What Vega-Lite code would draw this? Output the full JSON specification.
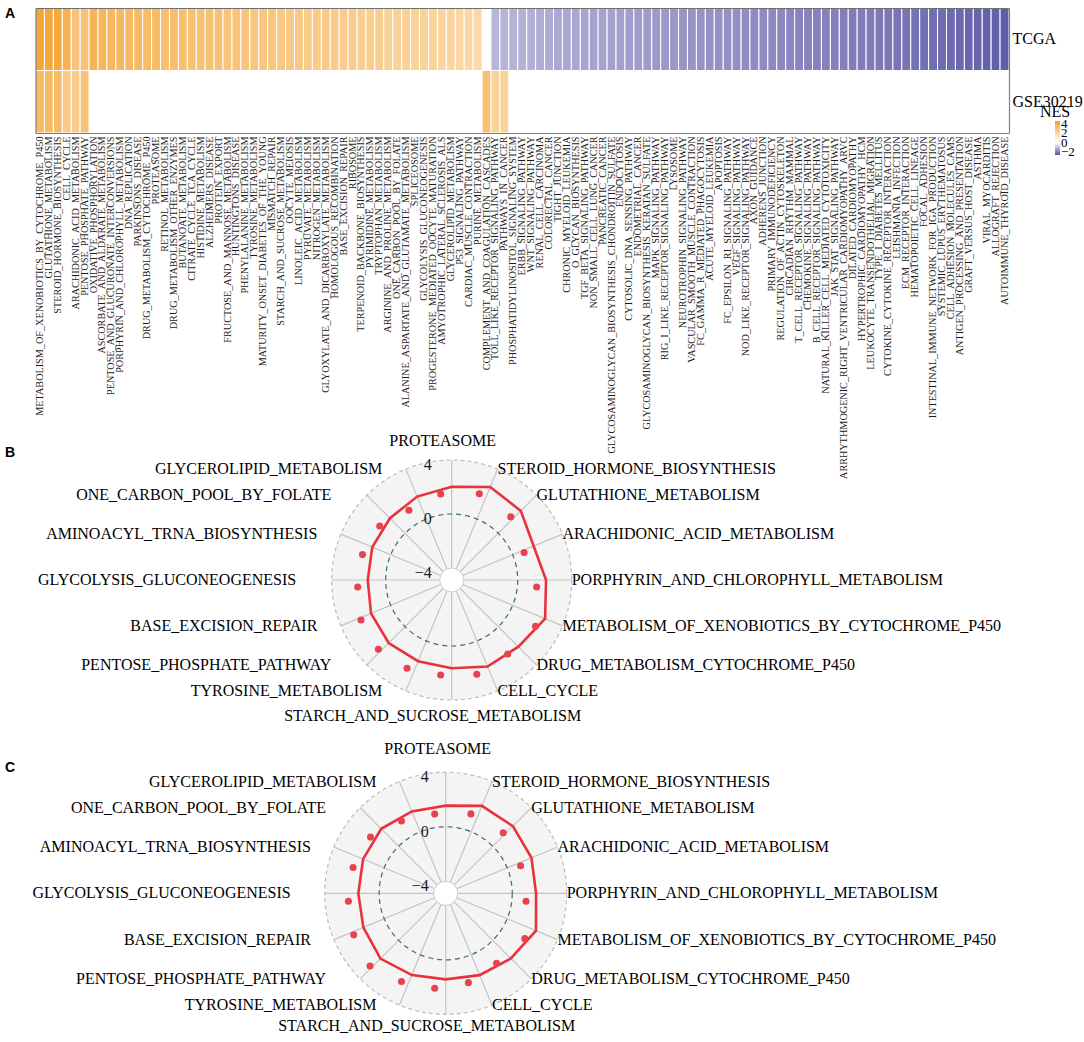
{
"$schema": "https://vega.github.io/schema/vega-lite/v6.json",
"width": 1084, "height": 1042,
"autosize": {"type": "fit", "contains": "padding"},
"padding": 0,
"background": "white",
"config": {"view": {"stroke": null}, "font": "Liberation Serif"},
"datasets": {
"cells": [
{"p":"METABOLISM_OF_XENOBIOTICS_BY_CYTOCHROME_P450","d":"TCGA","nes":4.4},
{"p":"METABOLISM_OF_XENOBIOTICS_BY_CYTOCHROME_P450","d":"GSE30219","nes":3.4},
{"p":"GLUTATHIONE_METABOLISM","d":"TCGA","nes":4.3},
{"p":"GLUTATHIONE_METABOLISM","d":"GSE30219","nes":3.4},
{"p":"STEROID_HORMONE_BIOSYNTHESIS","d":"TCGA","nes":4.3},
{"p":"STEROID_HORMONE_BIOSYNTHESIS","d":"GSE30219","nes":3.3},
{"p":"CELL_CYCLE","d":"TCGA","nes":3.8},
{"p":"CELL_CYCLE","d":"GSE30219","nes":2.6},
{"p":"ARACHIDONIC_ACID_METABOLISM","d":"TCGA","nes":2.9},
{"p":"ARACHIDONIC_ACID_METABOLISM","d":"GSE30219","nes":2.5},
{"p":"PENTOSE_PHOSPHATE_PATHWAY","d":"TCGA","nes":3.0},
{"p":"PENTOSE_PHOSPHATE_PATHWAY","d":"GSE30219","nes":3.0},
{"p":"OXIDATIVE_PHOSPHORYLATION","d":"TCGA","nes":3.7},
{"p":"ASCORBATE_AND_ALDARATE_METABOLISM","d":"TCGA","nes":3.6},
{"p":"PENTOSE_AND_GLUCURONATE_INTERCONVERSIONS","d":"TCGA","nes":3.5},
{"p":"PORPHYRIN_AND_CHLOROPHYLL_METABOLISM","d":"TCGA","nes":3.5},
{"p":"DNA_REPLICATION","d":"TCGA","nes":3.4},
{"p":"PARKINSONS_DISEASE","d":"TCGA","nes":3.4},
{"p":"DRUG_METABOLISM_CYTOCHROME_P450","d":"TCGA","nes":3.3},
{"p":"PROTEASOME","d":"TCGA","nes":3.3},
{"p":"RETINOL_METABOLISM","d":"TCGA","nes":3.2},
{"p":"DRUG_METABOLISM_OTHER_ENZYMES","d":"TCGA","nes":3.2},
{"p":"BUTANOATE_METABOLISM","d":"TCGA","nes":3.1},
{"p":"CITRATE_CYCLE_TCA_CYCLE","d":"TCGA","nes":3.1},
{"p":"HISTIDINE_METABOLISM","d":"TCGA","nes":3.0},
{"p":"ALZHEIMERS_DISEASE","d":"TCGA","nes":3.0},
{"p":"PROTEIN_EXPORT","d":"TCGA","nes":3.0},
{"p":"FRUCTOSE_AND_MANNOSE_METABOLISM","d":"TCGA","nes":2.9},
{"p":"HUNTINGTONS_DISEASE","d":"TCGA","nes":2.9},
{"p":"PHENYLALANINE_METABOLISM","d":"TCGA","nes":2.9},
{"p":"TYROSINE_METABOLISM","d":"TCGA","nes":2.8},
{"p":"MATURITY_ONSET_DIABETES_OF_THE_YOUNG","d":"TCGA","nes":2.8},
{"p":"MISMATCH_REPAIR","d":"TCGA","nes":2.8},
{"p":"STARCH_AND_SUCROSE_METABOLISM","d":"TCGA","nes":2.7},
{"p":"OOCYTE_MEIOSIS","d":"TCGA","nes":2.7},
{"p":"LINOLEIC_ACID_METABOLISM","d":"TCGA","nes":2.7},
{"p":"PYRUVATE_METABOLISM","d":"TCGA","nes":2.6},
{"p":"NITROGEN_METABOLISM","d":"TCGA","nes":2.6},
{"p":"GLYOXYLATE_AND_DICARBOXYLATE_METABOLISM","d":"TCGA","nes":2.6},
{"p":"HOMOLOGOUS_RECOMBINATION","d":"TCGA","nes":2.5},
{"p":"BASE_EXCISION_REPAIR","d":"TCGA","nes":2.5},
{"p":"RIBOSOME","d":"TCGA","nes":2.5},
{"p":"TERPENOID_BACKBONE_BIOSYNTHESIS","d":"TCGA","nes":2.4},
{"p":"PYRIMIDINE_METABOLISM","d":"TCGA","nes":2.4},
{"p":"TRYPTOPHAN_METABOLISM","d":"TCGA","nes":2.4},
{"p":"ARGININE_AND_PROLINE_METABOLISM","d":"TCGA","nes":2.3},
{"p":"ONE_CARBON_POOL_BY_FOLATE","d":"TCGA","nes":2.3},
{"p":"ALANINE_ASPARTATE_AND_GLUTAMATE_METABOLISM","d":"TCGA","nes":2.3},
{"p":"SPLICEOSOME","d":"TCGA","nes":2.2},
{"p":"GLYCOLYSIS_GLUCONEOGENESIS","d":"TCGA","nes":2.2},
{"p":"PROGESTERONE_MEDIATED_OOCYTE_MATURATION","d":"TCGA","nes":2.2},
{"p":"AMYOTROPHIC_LATERAL_SCLEROSIS_ALS","d":"TCGA","nes":2.1},
{"p":"GLYCEROLIPID_METABOLISM","d":"TCGA","nes":2.1},
{"p":"P53_SIGNALING_PATHWAY","d":"TCGA","nes":2.0},
{"p":"CARDIAC_MUSCLE_CONTRACTION","d":"TCGA","nes":2.0},
{"p":"PURINE_METABOLISM","d":"TCGA","nes":1.9},
{"p":"COMPLEMENT_AND_COAGULATION_CASCADES","d":"GSE30219","nes":3.1},
{"p":"TOLL_LIKE_RECEPTOR_SIGNALING_PATHWAY","d":"TCGA","nes":-1.10},
{"p":"TOLL_LIKE_RECEPTOR_SIGNALING_PATHWAY","d":"GSE30219","nes":2.3},
{"p":"PATHWAYS_IN_CANCER","d":"TCGA","nes":-1.13},
{"p":"PATHWAYS_IN_CANCER","d":"GSE30219","nes":2.2},
{"p":"PHOSPHATIDYLINOSITOL_SIGNALING_SYSTEM","d":"TCGA","nes":-1.15},
{"p":"ERBB_SIGNALING_PATHWAY","d":"TCGA","nes":-1.18},
{"p":"WNT_SIGNALING_PATHWAY","d":"TCGA","nes":-1.20},
{"p":"RENAL_CELL_CARCINOMA","d":"TCGA","nes":-1.23},
{"p":"COLORECTAL_CANCER","d":"TCGA","nes":-1.25},
{"p":"TIGHT_JUNCTION","d":"TCGA","nes":-1.28},
{"p":"CHRONIC_MYELOID_LEUKEMIA","d":"TCGA","nes":-1.30},
{"p":"O_GLYCAN_BIOSYNTHESIS","d":"TCGA","nes":-1.32},
{"p":"TGF_BETA_SIGNALING_PATHWAY","d":"TCGA","nes":-1.35},
{"p":"NON_SMALL_CELL_LUNG_CANCER","d":"TCGA","nes":-1.37},
{"p":"PANCREATIC_CANCER","d":"TCGA","nes":-1.40},
{"p":"GLYCOSAMINOGLYCAN_BIOSYNTHESIS_CHONDROITIN_SULFATE","d":"TCGA","nes":-1.42},
{"p":"ENDOCYTOSIS","d":"TCGA","nes":-1.44},
{"p":"CYTOSOLIC_DNA_SENSING_PATHWAY","d":"TCGA","nes":-1.46},
{"p":"ENDOMETRIAL_CANCER","d":"TCGA","nes":-1.48},
{"p":"GLYCOSAMINOGLYCAN_BIOSYNTHESIS_KERATAN_SULFATE","d":"TCGA","nes":-1.50},
{"p":"MAPK_SIGNALING_PATHWAY","d":"TCGA","nes":-1.52},
{"p":"RIG_I_LIKE_RECEPTOR_SIGNALING_PATHWAY","d":"TCGA","nes":-1.54},
{"p":"LYSOSOME","d":"TCGA","nes":-1.56},
{"p":"NEUROTROPHIN_SIGNALING_PATHWAY","d":"TCGA","nes":-1.58},
{"p":"VASCULAR_SMOOTH_MUSCLE_CONTRACTION","d":"TCGA","nes":-1.60},
{"p":"FC_GAMMA_R_MEDIATED_PHAGOCYTOSIS","d":"TCGA","nes":-1.62},
{"p":"ACUTE_MYELOID_LEUKEMIA","d":"TCGA","nes":-1.64},
{"p":"APOPTOSIS","d":"TCGA","nes":-1.66},
{"p":"FC_EPSILON_RI_SIGNALING_PATHWAY","d":"TCGA","nes":-1.68},
{"p":"VEGF_SIGNALING_PATHWAY","d":"TCGA","nes":-1.70},
{"p":"NOD_LIKE_RECEPTOR_SIGNALING_PATHWAY","d":"TCGA","nes":-1.72},
{"p":"AXON_GUIDANCE","d":"TCGA","nes":-1.74},
{"p":"ADHERENS_JUNCTION","d":"TCGA","nes":-1.76},
{"p":"PRIMARY_IMMUNODEFICIENCY","d":"TCGA","nes":-1.78},
{"p":"REGULATION_OF_ACTIN_CYTOSKELETON","d":"TCGA","nes":-1.80},
{"p":"CIRCADIAN_RHYTHM_MAMMAL","d":"TCGA","nes":-1.82},
{"p":"T_CELL_RECEPTOR_SIGNALING_PATHWAY","d":"TCGA","nes":-1.84},
{"p":"CHEMOKINE_SIGNALING_PATHWAY","d":"TCGA","nes":-1.86},
{"p":"B_CELL_RECEPTOR_SIGNALING_PATHWAY","d":"TCGA","nes":-1.88},
{"p":"NATURAL_KILLER_CELL_MEDIATED_CYTOTOXICITY","d":"TCGA","nes":-1.90},
{"p":"JAK_STAT_SIGNALING_PATHWAY","d":"TCGA","nes":-1.92},
{"p":"ARRHYTHMOGENIC_RIGHT_VENTRICULAR_CARDIOMYOPATHY_ARVC","d":"TCGA","nes":-1.94},
{"p":"DILATED_CARDIOMYOPATHY","d":"TCGA","nes":-1.96},
{"p":"HYPERTROPHIC_CARDIOMYOPATHY_HCM","d":"TCGA","nes":-1.98},
{"p":"LEUKOCYTE_TRANSENDOTHELIAL_MIGRATION","d":"TCGA","nes":-2.00},
{"p":"TYPE_I_DIABETES_MELLITUS","d":"TCGA","nes":-2.02},
{"p":"CYTOKINE_CYTOKINE_RECEPTOR_INTERACTION","d":"TCGA","nes":-2.05},
{"p":"LEISHMANIA_INFECTION","d":"TCGA","nes":-2.08},
{"p":"ECM_RECEPTOR_INTERACTION","d":"TCGA","nes":-2.10},
{"p":"HEMATOPOIETIC_CELL_LINEAGE","d":"TCGA","nes":-2.13},
{"p":"FOCAL_ADHESION","d":"TCGA","nes":-2.16},
{"p":"INTESTINAL_IMMUNE_NETWORK_FOR_IGA_PRODUCTION","d":"TCGA","nes":-2.19},
{"p":"SYSTEMIC_LUPUS_ERYTHEMATOSUS","d":"TCGA","nes":-2.22},
{"p":"CELL_ADHESION_MOLECULES_CAMS","d":"TCGA","nes":-2.25},
{"p":"ANTIGEN_PROCESSING_AND_PRESENTATION","d":"TCGA","nes":-2.28},
{"p":"GRAFT_VERSUS_HOST_DISEASE","d":"TCGA","nes":-2.31},
{"p":"ASTHMA","d":"TCGA","nes":-2.34},
{"p":"VIRAL_MYOCARDITIS","d":"TCGA","nes":-2.37},
{"p":"ALLOGRAFT_REJECTION","d":"TCGA","nes":-2.40},
{"p":"AUTOIMMUNE_THYROID_DISEASE","d":"TCGA","nes":-2.45}
],
"axes": [
{"p":"PROTEASOME","i":0},{"p":"STEROID_HORMONE_BIOSYNTHESIS","i":1},{"p":"GLUTATHIONE_METABOLISM","i":2},{"p":"ARACHIDONIC_ACID_METABOLISM","i":3},{"p":"PORPHYRIN_AND_CHLOROPHYLL_METABOLISM","i":4},{"p":"METABOLISM_OF_XENOBIOTICS_BY_CYTOCHROME_P450","i":5},{"p":"DRUG_METABOLISM_CYTOCHROME_P450","i":6},{"p":"CELL_CYCLE","i":7},{"p":"STARCH_AND_SUCROSE_METABOLISM","i":8},{"p":"TYROSINE_METABOLISM","i":9},{"p":"PENTOSE_PHOSPHATE_PATHWAY","i":10},{"p":"BASE_EXCISION_REPAIR","i":11},{"p":"GLYCOLYSIS_GLUCONEOGENESIS","i":12},{"p":"AMINOACYL_TRNA_BIOSYNTHESIS","i":13},{"p":"ONE_CARBON_POOL_BY_FOLATE","i":14},{"p":"GLYCEROLIPID_METABOLISM","i":15}
],
"grid": [{"v":4},{"v":0},{"v":-4}],
"radar": [
{"panel":"B","s":"line","p":"PROTEASOME","nes":2.02},
{"panel":"B","s":"line","p":"STEROID_HORMONE_BIOSYNTHESIS","nes":2.57},
{"panel":"B","s":"line","p":"GLUTATHIONE_METABOLISM","nes":2.35},
{"panel":"B","s":"line","p":"ARACHIDONIC_ACID_METABOLISM","nes":1.68},
{"panel":"B","s":"line","p":"PORPHYRIN_AND_CHLOROPHYLL_METABOLISM","nes":2.10},
{"panel":"B","s":"line","p":"METABOLISM_OF_XENOBIOTICS_BY_CYTOCHROME_P450","nes":2.60},
{"panel":"B","s":"line","p":"DRUG_METABOLISM_CYTOCHROME_P450","nes":2.10},
{"panel":"B","s":"line","p":"CELL_CYCLE","nes":2.05},
{"panel":"B","s":"line","p":"STARCH_AND_SUCROSE_METABOLISM","nes":1.65},
{"panel":"B","s":"line","p":"TYROSINE_METABOLISM","nes":1.62},
{"panel":"B","s":"line","p":"PENTOSE_PHOSPHATE_PATHWAY","nes":1.71},
{"panel":"B","s":"line","p":"BASE_EXCISION_REPAIR","nes":1.58},
{"panel":"B","s":"line","p":"GLYCOLYSIS_GLUCONEOGENESIS","nes":1.33},
{"panel":"B","s":"line","p":"AMINOACYL_TRNA_BIOSYNTHESIS","nes":1.48},
{"panel":"B","s":"line","p":"ONE_CARBON_POOL_BY_FOLATE","nes":1.58},
{"panel":"B","s":"line","p":"GLYCEROLIPID_METABOLISM","nes":1.80},
{"panel":"B","s":"dot","p":"PROTEASOME","nes":2.00},
{"panel":"B","s":"dot","p":"STEROID_HORMONE_BIOSYNTHESIS","nes":2.59},
{"panel":"B","s":"dot","p":"GLUTATHIONE_METABOLISM","nes":2.46},
{"panel":"B","s":"dot","p":"ARACHIDONIC_ACID_METABOLISM","nes":1.80},
{"panel":"B","s":"dot","p":"PORPHYRIN_AND_CHLOROPHYLL_METABOLISM","nes":2.22},
{"panel":"B","s":"dot","p":"METABOLISM_OF_XENOBIOTICS_BY_CYTOCHROME_P450","nes":2.71},
{"panel":"B","s":"dot","p":"DRUG_METABOLISM_CYTOCHROME_P450","nes":2.13},
{"panel":"B","s":"dot","p":"CELL_CYCLE","nes":2.10},
{"panel":"B","s":"dot","p":"STARCH_AND_SUCROSE_METABOLISM","nes":1.63},
{"panel":"B","s":"dot","p":"TYROSINE_METABOLISM","nes":1.62},
{"panel":"B","s":"dot","p":"PENTOSE_PHOSPHATE_PATHWAY","nes":1.64},
{"panel":"B","s":"dot","p":"BASE_EXCISION_REPAIR","nes":1.50},
{"panel":"B","s":"dot","p":"GLYCOLYSIS_GLUCONEOGENESIS","nes":1.26},
{"panel":"B","s":"dot","p":"AMINOACYL_TRNA_BIOSYNTHESIS","nes":1.38},
{"panel":"B","s":"dot","p":"ONE_CARBON_POOL_BY_FOLATE","nes":1.50},
{"panel":"B","s":"dot","p":"GLYCEROLIPID_METABOLISM","nes":1.27},
{"panel":"C","s":"line","p":"PROTEASOME","nes":1.55},
{"panel":"C","s":"line","p":"STEROID_HORMONE_BIOSYNTHESIS","nes":2.06},
{"panel":"C","s":"line","p":"GLUTATHIONE_METABOLISM","nes":2.09},
{"panel":"C","s":"line","p":"ARACHIDONIC_ACID_METABOLISM","nes":1.93},
{"panel":"C","s":"line","p":"PORPHYRIN_AND_CHLOROPHYLL_METABOLISM","nes":1.75},
{"panel":"C","s":"line","p":"METABOLISM_OF_XENOBIOTICS_BY_CYTOCHROME_P450","nes":2.29},
{"panel":"C","s":"line","p":"DRUG_METABOLISM_CYTOCHROME_P450","nes":1.88},
{"panel":"C","s":"line","p":"CELL_CYCLE","nes":1.62},
{"panel":"C","s":"line","p":"STARCH_AND_SUCROSE_METABOLISM","nes":1.43},
{"panel":"C","s":"line","p":"TYROSINE_METABOLISM","nes":1.61},
{"panel":"C","s":"line","p":"PENTOSE_PHOSPHATE_PATHWAY","nes":1.89},
{"panel":"C","s":"line","p":"BASE_EXCISION_REPAIR","nes":1.66},
{"panel":"C","s":"line","p":"GLYCOLYSIS_GLUCONEOGENESIS","nes":1.53},
{"panel":"C","s":"line","p":"AMINOACYL_TRNA_BIOSYNTHESIS","nes":1.68},
{"panel":"C","s":"line","p":"ONE_CARBON_POOL_BY_FOLATE","nes":1.81},
{"panel":"C","s":"line","p":"GLYCEROLIPID_METABOLISM","nes":1.62},
{"panel":"C","s":"dot","p":"PROTEASOME","nes":1.53},
{"panel":"C","s":"dot","p":"STEROID_HORMONE_BIOSYNTHESIS","nes":2.06},
{"panel":"C","s":"dot","p":"GLUTATHIONE_METABOLISM","nes":2.23},
{"panel":"C","s":"dot","p":"ARACHIDONIC_ACID_METABOLISM","nes":1.94},
{"panel":"C","s":"dot","p":"PORPHYRIN_AND_CHLOROPHYLL_METABOLISM","nes":1.82},
{"panel":"C","s":"dot","p":"METABOLISM_OF_XENOBIOTICS_BY_CYTOCHROME_P450","nes":2.28},
{"panel":"C","s":"dot","p":"DRUG_METABOLISM_CYTOCHROME_P450","nes":1.54},
{"panel":"C","s":"dot","p":"CELL_CYCLE","nes":1.58},
{"panel":"C","s":"dot","p":"STARCH_AND_SUCROSE_METABOLISM","nes":1.50},
{"panel":"C","s":"dot","p":"TYROSINE_METABOLISM","nes":1.49},
{"panel":"C","s":"dot","p":"PENTOSE_PHOSPHATE_PATHWAY","nes":1.83},
{"panel":"C","s":"dot","p":"BASE_EXCISION_REPAIR","nes":1.55},
{"panel":"C","s":"dot","p":"GLYCOLYSIS_GLUCONEOGENESIS","nes":1.45},
{"panel":"C","s":"dot","p":"AMINOACYL_TRNA_BIOSYNTHESIS","nes":1.60},
{"panel":"C","s":"dot","p":"ONE_CARBON_POOL_BY_FOLATE","nes":1.78},
{"panel":"C","s":"dot","p":"GLYCEROLIPID_METABOLISM","nes":1.49}
]
},
"layer": [
{
"data": {"name": "cells"},
"layer": [
{
"mark": {"type": "rect", "stroke": "white", "strokeWidth": 1},
"encoding": {
"x": {"field": "p", "type": "nominal", "sort": null, "scale": {"range": [35.5, 1009], "paddingInner": 0, "paddingOuter": 0},
 "axis": {"orient": "bottom", "offset": -909, "title": null, "ticks": false, "domain": true, "domainColor": "#808080", "domainWidth": 1.2, "labelAngle": -90, "labelFont": "Liberation Serif", "labelFontSize": 10.2, "labelColor": "#1a1a1a", "labelPadding": 3, "labelLimit": 0, "labelOverlap": false, "zindex": 1}},
"y": {"field": "d", "type": "nominal", "sort": ["TCGA", "GSE30219"], "scale": {"range": [8, 133], "paddingInner": 0, "paddingOuter": 0},
 "axis": {"orient": "right", "offset": -75, "title": null, "ticks": false, "domain": true, "domainColor": "#808080", "domainWidth": 1.2, "labelFont": "Liberation Serif", "labelFontSize": 16, "labelColor": "#000", "labelPadding": 3, "labelLimit": 0, "zindex": 1}},
"color": {"field": "nes", "type": "quantitative",
 "scale": {"domain": [-2.6, 0, 4.6], "range": ["#5753A3", "#FFFFFF", "#F4A22D"], "interpolate": "rgb"},
 "legend": {"orient": "none", "legendX": 1040, "legendY": 104, "title": "NES", "titleFont": "Liberation Serif", "titleFontSize": 16, "titleFontWeight": "normal", "titleColor": "#000", "titleAlign": "center", "titleAnchor": "start", "titlePadding": 1, "direction": "vertical", "gradientLength": 34, "gradientThickness": 5, "gradientStrokeWidth": 0, "values": [-2, 0, 2, 4], "labelFont": "Liberation Serif", "labelFontSize": 13, "labelColor": "#000", "labelOffset": 1, "labelOverlap": false, "labelBaseline": "middle", "padding": 0}}
}
},
{
"mark": {"type": "rect", "opacity": 0},
"encoding": {
"x": {"field": "p", "type": "nominal", "sort": null, "axis": {"orient": "top", "offset": -8, "title": null, "labels": false, "ticks": false, "domain": true, "domainColor": "#707070", "domainWidth": 1.2, "zindex": 1}},
"y": {"field": "d", "type": "nominal", "sort": ["TCGA", "GSE30219"], "axis": {"orient": "left", "offset": -35.5, "title": null, "labels": false, "ticks": false, "domain": true, "domainColor": "#808080", "domainWidth": 1.2, "zindex": 1}}
}
}
],
"resolve": {"axis": {"x": "independent", "y": "independent"}}
},
{
"layer": [
{"data": {"name": "grid"}, "transform": [{"filter": "datum.v === 4"}],
 "mark": {"type": "point", "shape": "circle", "filled": true, "fill": "#F4F4F4", "stroke": "#BDBDBD", "strokeWidth": 1.2, "strokeDash": [4, 3], "size": 57600, "opacity": 1, "fillOpacity": 1},
 "encoding": {"x": {"datum": 0, "type": "quantitative", "scale": {"domain": [-1, 1], "range": [331.7, 571.7], "nice": false, "zero": false}, "axis": null},
  "y": {"datum": 0, "type": "quantitative", "scale": {"domain": [-1, 1], "range": [700, 460], "nice": false, "zero": false}, "axis": null}}},
{"data": {"name": "axes"}, "transform": [{"calculate": "sin(datum.i*PI/8)", "as": "sx"}, {"calculate": "cos(datum.i*PI/8)", "as": "sy"}],
 "mark": {"type": "rule", "color": "#C4C4C4", "strokeWidth": 1.2},
 "encoding": {"x": {"field": "sx", "type": "quantitative", "scale": {"domain": [-1, 1], "range": [331.7, 571.7], "nice": false, "zero": false}, "axis": null},
  "y": {"field": "sy", "type": "quantitative", "scale": {"domain": [-1, 1], "range": [700, 460], "nice": false, "zero": false}, "axis": null},
  "x2": {"datum": 0}, "y2": {"datum": 0}}},
{"data": {"name": "grid"}, "transform": [{"filter": "datum.v === 0"}],
 "mark": {"type": "point", "shape": "circle", "filled": false, "stroke": "#3F6D6D", "strokeWidth": 1.2, "strokeDash": [5, 4], "size": 17424, "opacity": 1},
 "encoding": {"x": {"datum": 0, "type": "quantitative", "scale": {"domain": [-1, 1], "range": [331.7, 571.7], "nice": false, "zero": false}, "axis": null},
  "y": {"datum": 0, "type": "quantitative", "scale": {"domain": [-1, 1], "range": [700, 460], "nice": false, "zero": false}, "axis": null}}},
{"data": {"name": "grid"}, "transform": [{"filter": "datum.v === -4"}],
 "mark": {"type": "point", "shape": "circle", "filled": true, "fill": "#FFFFFF", "stroke": "#CCCCCC", "strokeWidth": 1, "size": 576, "opacity": 1, "fillOpacity": 1},
 "encoding": {"x": {"datum": 0, "type": "quantitative", "scale": {"domain": [-1, 1], "range": [331.7, 571.7], "nice": false, "zero": false}, "axis": null},
  "y": {"datum": 0, "type": "quantitative", "scale": {"domain": [-1, 1], "range": [700, 460], "nice": false, "zero": false}, "axis": null}}},
{"data": {"name": "radar"}, "transform": [{"filter": "datum.panel === 'B' && datum.s === 'line'"}, {"lookup": "p", "from": {"data": {"name": "axes"}, "key": "p", "fields": ["i"]}}, {"calculate": "(datum.nes + 4.8889) / 8.8889", "as": "r"}, {"calculate": "datum.r * sin(datum.i*PI/8)", "as": "x"}, {"calculate": "datum.r * cos(datum.i*PI/8)", "as": "y"}],
 "mark": {"type": "line", "interpolate": "linear-closed", "color": "#E8323C", "strokeWidth": 2.6},
 "encoding": {"x": {"field": "x", "type": "quantitative", "scale": {"domain": [-1, 1], "range": [331.7, 571.7], "nice": false, "zero": false}, "axis": null},
  "y": {"field": "y", "type": "quantitative", "scale": {"domain": [-1, 1], "range": [700, 460], "nice": false, "zero": false}, "axis": null},
  "order": {"field": "i", "type": "quantitative"}}},
{"data": {"name": "radar"}, "transform": [{"filter": "datum.panel === 'B' && datum.s === 'dot'"}, {"lookup": "p", "from": {"data": {"name": "axes"}, "key": "p", "fields": ["i"]}}, {"calculate": "(datum.nes + 4.8889) / 8.8889", "as": "r"}, {"calculate": "datum.r * sin(datum.i*PI/8)", "as": "x"}, {"calculate": "datum.r * cos(datum.i*PI/8)", "as": "y"}],
 "mark": {"type": "point", "shape": "circle", "filled": true, "color": "#E8434D", "size": 50, "opacity": 1, "xOffset": -11, "yOffset": 7},
 "encoding": {"x": {"field": "x", "type": "quantitative", "scale": {"domain": [-1, 1], "range": [331.7, 571.7], "nice": false, "zero": false}, "axis": null},
  "y": {"field": "y", "type": "quantitative", "scale": {"domain": [-1, 1], "range": [700, 460], "nice": false, "zero": false}, "axis": null}}},
{"data": {"name": "grid"}, "transform": [{"calculate": "(datum.v + 4.8889) / 8.8889", "as": "ry"}, {"calculate": "0", "as": "z"}],
 "mark": {"type": "text", "align": "right", "baseline": "middle", "dx": -20, "dy": 5, "font": "Liberation Serif", "fontSize": 16, "color": "#1a1a1a"},
 "encoding": {"x": {"field": "z", "type": "quantitative", "scale": {"domain": [-1, 1], "range": [331.7, 571.7], "nice": false, "zero": false}, "axis": null},
  "y": {"field": "ry", "type": "quantitative", "scale": {"domain": [-1, 1], "range": [700, 460], "nice": false, "zero": false}, "axis": null},
  "text": {"field": "v", "type": "quantitative", "format": "d"}}},
{"data": {"name": "axes"}, "transform": [{"calculate": "sin(datum.i*PI/8)", "as": "sx"}, {"calculate": "cos(datum.i*PI/8)", "as": "sy"}, {"filter": "datum.i === 0"}],
 "mark": {"type": "text", "align": "center", "baseline": "middle", "dx": -9, "dy": -19, "font": "Liberation Serif", "fontSize": 16, "color": "#000"},
 "encoding": {"x": {"field": "sx", "type": "quantitative", "scale": {"domain": [-1, 1], "range": [331.7, 571.7], "nice": false, "zero": false}, "axis": null}, "y": {"field": "sy", "type": "quantitative", "scale": {"domain": [-1, 1], "range": [700, 460], "nice": false, "zero": false}, "axis": null}, "text": {"field": "p", "type": "nominal"}}},
{"data": {"name": "axes"}, "transform": [{"calculate": "sin(datum.i*PI/8)", "as": "sx"}, {"calculate": "cos(datum.i*PI/8)", "as": "sy"}, {"filter": "datum.i >= 1 && datum.i <= 7"}],
 "mark": {"type": "text", "align": "left", "baseline": "middle", "font": "Liberation Serif", "fontSize": 16, "color": "#000"},
 "encoding": {"x": {"field": "sx", "type": "quantitative", "scale": {"domain": [-1, 1], "range": [331.7, 571.7], "nice": false, "zero": false}, "axis": null}, "y": {"field": "sy", "type": "quantitative", "scale": {"domain": [-1, 1], "range": [700, 460], "nice": false, "zero": false}, "axis": null}, "text": {"field": "p", "type": "nominal"}}},
{"data": {"name": "axes"}, "transform": [{"calculate": "sin(datum.i*PI/8)", "as": "sx"}, {"calculate": "cos(datum.i*PI/8)", "as": "sy"}, {"filter": "datum.i === 8"}],
 "mark": {"type": "text", "align": "center", "baseline": "middle", "dx": -19, "dy": 16, "font": "Liberation Serif", "fontSize": 16, "color": "#000"},
 "encoding": {"x": {"field": "sx", "type": "quantitative", "scale": {"domain": [-1, 1], "range": [331.7, 571.7], "nice": false, "zero": false}, "axis": null}, "y": {"field": "sy", "type": "quantitative", "scale": {"domain": [-1, 1], "range": [700, 460], "nice": false, "zero": false}, "axis": null}, "text": {"field": "p", "type": "nominal"}}},
{"data": {"name": "axes"}, "transform": [{"calculate": "sin(datum.i*PI/8)", "as": "sx"}, {"calculate": "cos(datum.i*PI/8)", "as": "sy"}, {"filter": "datum.i >= 9 && datum.i % 2 === 1"}],
 "mark": {"type": "text", "align": "right", "baseline": "middle", "dx": -23.5, "font": "Liberation Serif", "fontSize": 16, "color": "#000"},
 "encoding": {"x": {"field": "sx", "type": "quantitative", "scale": {"domain": [-1, 1], "range": [331.7, 571.7], "nice": false, "zero": false}, "axis": null}, "y": {"field": "sy", "type": "quantitative", "scale": {"domain": [-1, 1], "range": [700, 460], "nice": false, "zero": false}, "axis": null}, "text": {"field": "p", "type": "nominal"}}},
{"data": {"name": "axes"}, "transform": [{"calculate": "sin(datum.i*PI/8)", "as": "sx"}, {"calculate": "cos(datum.i*PI/8)", "as": "sy"}, {"filter": "datum.i >= 9 && datum.i % 2 === 0"}],
 "mark": {"type": "text", "align": "right", "baseline": "middle", "dx": -35.5, "font": "Liberation Serif", "fontSize": 16, "color": "#000"},
 "encoding": {"x": {"field": "sx", "type": "quantitative", "scale": {"domain": [-1, 1], "range": [331.7, 571.7], "nice": false, "zero": false}, "axis": null}, "y": {"field": "sy", "type": "quantitative", "scale": {"domain": [-1, 1], "range": [700, 460], "nice": false, "zero": false}, "axis": null}, "text": {"field": "p", "type": "nominal"}}},
{"data": {"values": [{"t": "A", "px": -3.7225, "py": 4.717}, {"t": "B", "px": -3.7225, "py": 1.058}]},
 "mark": {"type": "text", "align": "left", "baseline": "middle", "font": "Liberation Sans", "fontWeight": "bold", "fontSize": 14, "color": "#000"},
 "encoding": {"x": {"field": "px", "type": "quantitative", "scale": {"domain": [-1, 1], "range": [331.7, 571.7], "nice": false, "zero": false}, "axis": null},
  "y": {"field": "py", "type": "quantitative", "scale": {"domain": [-1, 1], "range": [700, 460], "nice": false, "zero": false}, "axis": null}, "text": {"field": "t", "type": "nominal"}}}
]
},
{
"layer": [
{"data": {"name": "grid"}, "transform": [{"filter": "datum.v === 4"}],
 "mark": {"type": "point", "shape": "circle", "filled": true, "fill": "#F4F4F4", "stroke": "#BDBDBD", "strokeWidth": 1.2, "strokeDash": [4, 3], "size": 58564, "opacity": 1, "fillOpacity": 1},
 "encoding": {"x": {"datum": 0, "type": "quantitative", "scale": {"domain": [-1, 1], "range": [324.7, 566.7], "nice": false, "zero": false}, "axis": null},
  "y": {"datum": 0, "type": "quantitative", "scale": {"domain": [-1, 1], "range": [1014.3, 772.3], "nice": false, "zero": false}, "axis": null}}},
{"data": {"name": "axes"}, "transform": [{"calculate": "sin(datum.i*PI/8)", "as": "sx"}, {"calculate": "cos(datum.i*PI/8)", "as": "sy"}],
 "mark": {"type": "rule", "color": "#C4C4C4", "strokeWidth": 1.2},
 "encoding": {"x": {"field": "sx", "type": "quantitative", "scale": {"domain": [-1, 1], "range": [324.7, 566.7], "nice": false, "zero": false}, "axis": null},
  "y": {"field": "sy", "type": "quantitative", "scale": {"domain": [-1, 1], "range": [1014.3, 772.3], "nice": false, "zero": false}, "axis": null},
  "x2": {"datum": 0}, "y2": {"datum": 0}}},
{"data": {"name": "grid"}, "transform": [{"filter": "datum.v === 0"}],
 "mark": {"type": "point", "shape": "circle", "filled": false, "stroke": "#3F6D6D", "strokeWidth": 1.2, "strokeDash": [5, 4], "size": 17716, "opacity": 1},
 "encoding": {"x": {"datum": 0, "type": "quantitative", "scale": {"domain": [-1, 1], "range": [324.7, 566.7], "nice": false, "zero": false}, "axis": null},
  "y": {"datum": 0, "type": "quantitative", "scale": {"domain": [-1, 1], "range": [1014.3, 772.3], "nice": false, "zero": false}, "axis": null}}},
{"data": {"name": "grid"}, "transform": [{"filter": "datum.v === -4"}],
 "mark": {"type": "point", "shape": "circle", "filled": true, "fill": "#FFFFFF", "stroke": "#CCCCCC", "strokeWidth": 1, "size": 586, "opacity": 1, "fillOpacity": 1},
 "encoding": {"x": {"datum": 0, "type": "quantitative", "scale": {"domain": [-1, 1], "range": [324.7, 566.7], "nice": false, "zero": false}, "axis": null},
  "y": {"datum": 0, "type": "quantitative", "scale": {"domain": [-1, 1], "range": [1014.3, 772.3], "nice": false, "zero": false}, "axis": null}}},
{"data": {"name": "radar"}, "transform": [{"filter": "datum.panel === 'C' && datum.s === 'line'"}, {"lookup": "p", "from": {"data": {"name": "axes"}, "key": "p", "fields": ["i"]}}, {"calculate": "(datum.nes + 4.8889) / 8.8889", "as": "r"}, {"calculate": "datum.r * sin(datum.i*PI/8)", "as": "x"}, {"calculate": "datum.r * cos(datum.i*PI/8)", "as": "y"}],
 "mark": {"type": "line", "interpolate": "linear-closed", "color": "#E8323C", "strokeWidth": 2.6},
 "encoding": {"x": {"field": "x", "type": "quantitative", "scale": {"domain": [-1, 1], "range": [324.7, 566.7], "nice": false, "zero": false}, "axis": null},
  "y": {"field": "y", "type": "quantitative", "scale": {"domain": [-1, 1], "range": [1014.3, 772.3], "nice": false, "zero": false}, "axis": null},
  "order": {"field": "i", "type": "quantitative"}}},
{"data": {"name": "radar"}, "transform": [{"filter": "datum.panel === 'C' && datum.s === 'dot'"}, {"lookup": "p", "from": {"data": {"name": "axes"}, "key": "p", "fields": ["i"]}}, {"calculate": "(datum.nes + 4.8889) / 8.8889", "as": "r"}, {"calculate": "datum.r * sin(datum.i*PI/8)", "as": "x"}, {"calculate": "datum.r * cos(datum.i*PI/8)", "as": "y"}],
 "mark": {"type": "point", "shape": "circle", "filled": true, "color": "#E8434D", "size": 50, "opacity": 1, "xOffset": -11, "yOffset": 8},
 "encoding": {"x": {"field": "x", "type": "quantitative", "scale": {"domain": [-1, 1], "range": [324.7, 566.7], "nice": false, "zero": false}, "axis": null},
  "y": {"field": "y", "type": "quantitative", "scale": {"domain": [-1, 1], "range": [1014.3, 772.3], "nice": false, "zero": false}, "axis": null}}},
{"data": {"name": "grid"}, "transform": [{"calculate": "(datum.v + 4.8889) / 8.8889", "as": "ry"}, {"calculate": "0", "as": "z"}],
 "mark": {"type": "text", "align": "right", "baseline": "middle", "dx": -17, "dy": 5, "font": "Liberation Serif", "fontSize": 16, "color": "#1a1a1a"},
 "encoding": {"x": {"field": "z", "type": "quantitative", "scale": {"domain": [-1, 1], "range": [324.7, 566.7], "nice": false, "zero": false}, "axis": null},
  "y": {"field": "ry", "type": "quantitative", "scale": {"domain": [-1, 1], "range": [1014.3, 772.3], "nice": false, "zero": false}, "axis": null},
  "text": {"field": "v", "type": "quantitative", "format": "d"}}},
{"data": {"name": "axes"}, "transform": [{"calculate": "sin(datum.i*PI/8)", "as": "sx"}, {"calculate": "cos(datum.i*PI/8)", "as": "sy"}, {"filter": "datum.i === 0"}],
 "mark": {"type": "text", "align": "center", "baseline": "middle", "dx": -8, "dy": -23, "font": "Liberation Serif", "fontSize": 16, "color": "#000"},
 "encoding": {"x": {"field": "sx", "type": "quantitative", "scale": {"domain": [-1, 1], "range": [324.7, 566.7], "nice": false, "zero": false}, "axis": null}, "y": {"field": "sy", "type": "quantitative", "scale": {"domain": [-1, 1], "range": [1014.3, 772.3], "nice": false, "zero": false}, "axis": null}, "text": {"field": "p", "type": "nominal"}}},
{"data": {"name": "axes"}, "transform": [{"calculate": "sin(datum.i*PI/8)", "as": "sx"}, {"calculate": "cos(datum.i*PI/8)", "as": "sy"}, {"filter": "datum.i >= 1 && datum.i <= 7"}],
 "mark": {"type": "text", "align": "left", "baseline": "middle", "font": "Liberation Serif", "fontSize": 16, "color": "#000"},
 "encoding": {"x": {"field": "sx", "type": "quantitative", "scale": {"domain": [-1, 1], "range": [324.7, 566.7], "nice": false, "zero": false}, "axis": null}, "y": {"field": "sy", "type": "quantitative", "scale": {"domain": [-1, 1], "range": [1014.3, 772.3], "nice": false, "zero": false}, "axis": null}, "text": {"field": "p", "type": "nominal"}}},
{"data": {"name": "axes"}, "transform": [{"calculate": "sin(datum.i*PI/8)", "as": "sx"}, {"calculate": "cos(datum.i*PI/8)", "as": "sy"}, {"filter": "datum.i === 8"}],
 "mark": {"type": "text", "align": "center", "baseline": "middle", "dx": -19, "dy": 12, "font": "Liberation Serif", "fontSize": 16, "color": "#000"},
 "encoding": {"x": {"field": "sx", "type": "quantitative", "scale": {"domain": [-1, 1], "range": [324.7, 566.7], "nice": false, "zero": false}, "axis": null}, "y": {"field": "sy", "type": "quantitative", "scale": {"domain": [-1, 1], "range": [1014.3, 772.3], "nice": false, "zero": false}, "axis": null}, "text": {"field": "p", "type": "nominal"}}},
{"data": {"name": "axes"}, "transform": [{"calculate": "sin(datum.i*PI/8)", "as": "sx"}, {"calculate": "cos(datum.i*PI/8)", "as": "sy"}, {"filter": "datum.i >= 9 && datum.i % 2 === 1"}],
 "mark": {"type": "text", "align": "right", "baseline": "middle", "dx": -23, "font": "Liberation Serif", "fontSize": 16, "color": "#000"},
 "encoding": {"x": {"field": "sx", "type": "quantitative", "scale": {"domain": [-1, 1], "range": [324.7, 566.7], "nice": false, "zero": false}, "axis": null}, "y": {"field": "sy", "type": "quantitative", "scale": {"domain": [-1, 1], "range": [1014.3, 772.3], "nice": false, "zero": false}, "axis": null}, "text": {"field": "p", "type": "nominal"}}},
{"data": {"name": "axes"}, "transform": [{"calculate": "sin(datum.i*PI/8)", "as": "sx"}, {"calculate": "cos(datum.i*PI/8)", "as": "sy"}, {"filter": "datum.i >= 9 && datum.i % 2 === 0"}],
 "mark": {"type": "text", "align": "right", "baseline": "middle", "dx": -34, "font": "Liberation Serif", "fontSize": 16, "color": "#000"},
 "encoding": {"x": {"field": "sx", "type": "quantitative", "scale": {"domain": [-1, 1], "range": [324.7, 566.7], "nice": false, "zero": false}, "axis": null}, "y": {"field": "sy", "type": "quantitative", "scale": {"domain": [-1, 1], "range": [1014.3, 772.3], "nice": false, "zero": false}, "axis": null}, "text": {"field": "p", "type": "nominal"}}},
{"data": {"values": [{"t": "C", "px": -3.642, "py": 1.0355}]},
 "mark": {"type": "text", "align": "left", "baseline": "middle", "font": "Liberation Sans", "fontWeight": "bold", "fontSize": 14, "color": "#000"},
 "encoding": {"x": {"field": "px", "type": "quantitative", "scale": {"domain": [-1, 1], "range": [324.7, 566.7], "nice": false, "zero": false}, "axis": null},
  "y": {"field": "py", "type": "quantitative", "scale": {"domain": [-1, 1], "range": [1014.3, 772.3], "nice": false, "zero": false}, "axis": null}, "text": {"field": "t", "type": "nominal"}}}
]
}
],
"resolve": {"scale": {"x": "independent", "y": "independent", "color": "independent"}}
}
